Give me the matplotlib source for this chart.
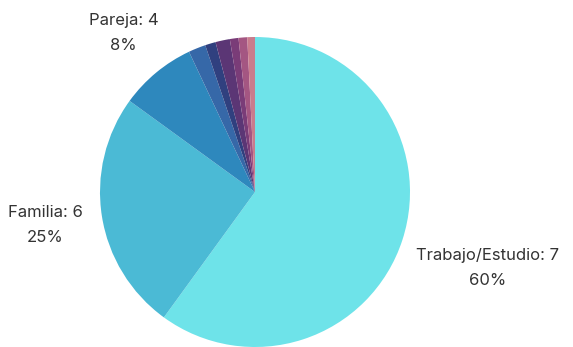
import numpy as np
import matplotlib.pyplot as plt

plt.rcParams['font.family'] = ['Inter', 'DejaVu Sans']

# data
categories = ["Trabajo/Estudio", "Familia", "Pareja", "Otro 1", "Otro 2",
              "Otro 3", "Otro 4", "Otro 5", "Otro 6"]
counts = ["7", "6", "4", "", "", "", "", "", ""]
shares = [60, 25, 8, 1.8, 1.1, 1.5, 0.9, 0.9, 0.8]
colors = ["#6ee3e9", "#4bbad5", "#2e88bd", "#3668a8", "#30407f",
          "#5b3675", "#7a3c78", "#a45682", "#c97c8d"]

fig = plt.figure(figsize=(5.73, 3.47), dpi=100)
ax = fig.add_axes([100 / 573, 0, 310 / 573, 310 / 347])

wedges, _ = ax.pie(shares, colors=colors, startangle=90, counterclock=False,
                   wedgeprops=dict(linewidth=0))

# labels only for the three big slices
label_dist = [1.58, 1.37, 1.33]
for i in range(3):
    w = wedges[i]
    ang = np.deg2rad((w.theta1 + w.theta2) / 2)
    r = label_dist[i]
    ax.text(r * np.cos(ang), r * np.sin(ang),
            f"{categories[i]}: {counts[i]}\n{shares[i]:.0f}%",
            ha="center", va="center", fontsize=12, color="#333333",
            linespacing=1.85)

ax.set_xlim(-1, 1)
ax.set_ylim(-1, 1)
ax.set_aspect("equal")

fig.savefig("out.png", dpi=100)
